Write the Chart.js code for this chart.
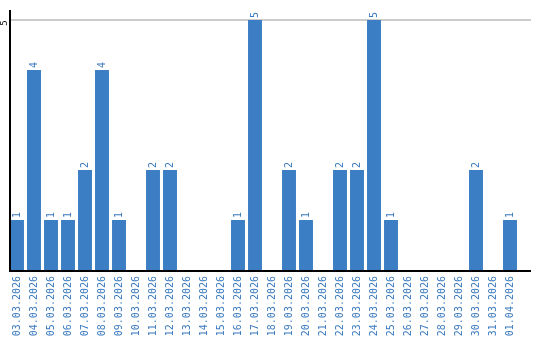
<!DOCTYPE html>
<html>
<head>
<meta charset="utf-8">
<script src="https://cdn.jsdelivr.net/npm/chart.js@4.4.1/dist/chart.umd.min.js"></script>
<style>
html,body{margin:0;padding:0;background:#fff;}
#wrap{width:540px;height:340px;position:relative;}
</style>
</head>
<body>
<div id="wrap"><canvas id="c" width="540" height="340"></canvas></div>
<script>
const categories = ["03.03.2026","04.03.2026","05.03.2026","06.03.2026","07.03.2026","08.03.2026","09.03.2026","10.03.2026","11.03.2026","12.03.2026","13.03.2026","14.03.2026","15.03.2026","16.03.2026","17.03.2026","18.03.2026","19.03.2026","20.03.2026","21.03.2026","22.03.2026","23.03.2026","24.03.2026","25.03.2026","26.03.2026","27.03.2026","28.03.2026","29.03.2026","30.03.2026","31.03.2026","01.04.2026"];
const values = [1,4,1,1,2,4,1,0,2,2,0,0,0,1,5,0,2,1,0,2,2,5,1,0,0,0,0,2,0,1];
const yTickLabels = [5];

const BAR = '#3b7ec4';
const TXT = '#3a7abf';
const FONT = '"DejaVu Sans Mono", "Liberation Mono", monospace';

const decor = {
  id: 'decor',
  beforeDatasetsDraw(chart) {
    const {ctx, scales} = chart;
    ctx.save();
    ctx.strokeStyle = '#cccccc';
    ctx.lineWidth = 2;
    yTickLabels.forEach(v => {
      const y = Math.round(scales.y.getPixelForValue(v));
      ctx.beginPath();
      ctx.moveTo(10, y);
      ctx.lineTo(531, y);
      ctx.stroke();
    });
    ctx.restore();
  },
  afterDatasetsDraw(chart) {
    const {ctx, chartArea, scales} = chart;
    ctx.save();
    ctx.strokeStyle = '#000';
    ctx.lineWidth = 2;
    const y0 = scales.y.getPixelForValue(0);
    ctx.beginPath();
    ctx.moveTo(10, chartArea.top);
    ctx.lineTo(10, y0 + 1);
    ctx.lineTo(531, y0 + 1);
    ctx.stroke();
    ctx.fillStyle = '#000';
    ctx.font = '9px ' + FONT;
    yTickLabels.forEach(v => {
      const y = scales.y.getPixelForValue(v);
      ctx.save();
      ctx.translate(4.5, y + 3);
      ctx.rotate(-Math.PI / 2);
      ctx.textAlign = 'center';
      ctx.textBaseline = 'middle';
      ctx.fillText(String(v), 0, 0);
      ctx.restore();
    });
    ctx.fillStyle = TXT;
    ctx.font = '10px ' + FONT;
    const meta = chart.getDatasetMeta(0);
    meta.data.forEach((bar, i) => {
      const v = values[i];
      if (!v) return;
      ctx.save();
      ctx.translate(bar.x, bar.y - 2);
      ctx.rotate(-Math.PI / 2);
      ctx.textAlign = 'left';
      ctx.textBaseline = 'middle';
      ctx.fillText(String(v), 0, 0);
      ctx.restore();
    });
    ctx.restore();
  }
};

new Chart(document.getElementById('c'), {
  type: 'bar',
  data: {
    labels: categories,
    datasets: [{
      data: values,
      backgroundColor: BAR,
      borderWidth: 0,
      categoryPercentage: 1,
      barPercentage: 0.82
    }]
  },
  options: {
    responsive: false,
    animation: false,
    devicePixelRatio: 1,
    layout: { padding: { left: 8.5, right: 21.5, top: 10, bottom: 0 } },
    plugins: { legend: { display: false }, tooltip: { enabled: false } },
    scales: {
      x: {
        offset: true,
        grid: { display: false, drawTicks: false },
        border: { display: false },
        ticks: {
          color: TXT,
          font: { family: FONT, size: 10 },
          minRotation: 90,
          maxRotation: 90,
          autoSkip: false,
          padding: 6
        },
        afterFit(s) { s.height = 70; s.paddingLeft = 0; s.paddingRight = 0; }
      },
      y: {
        display: false,
        min: 0,
        max: 5.2
      }
    }
  },
  plugins: [decor]
});
</script>
</body>
</html>
